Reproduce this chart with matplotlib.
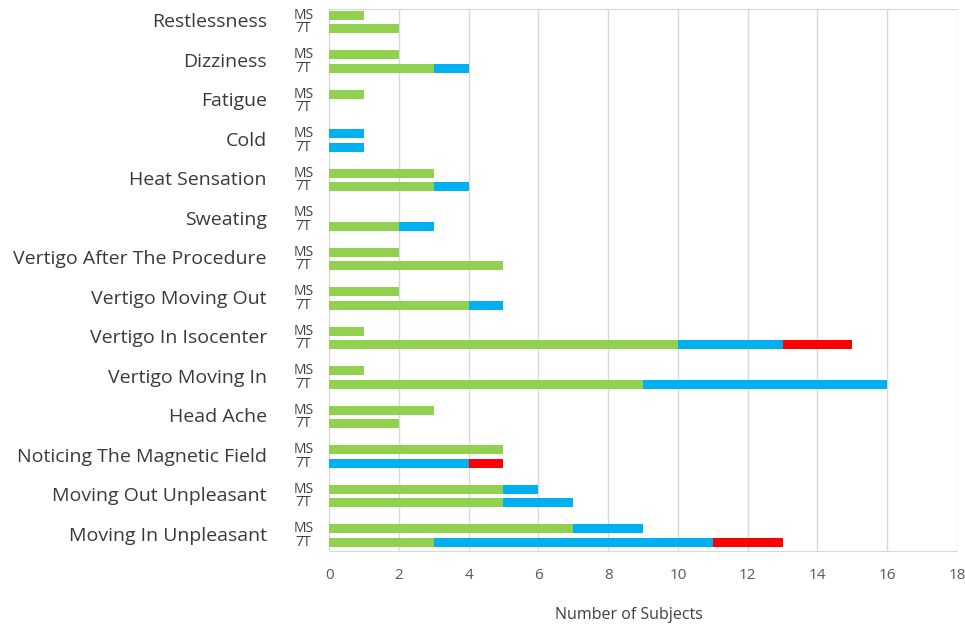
import numpy as np
import matplotlib
matplotlib.use("Agg")
import matplotlib.pyplot as plt

plt.rcParams['font.family'] = ['Open Sans', 'DejaVu Sans']

# Categories listed top to bottom as in the chart
categories = ["Restlessness", "Dizziness", "Fatigue", "Cold", "Heat Sensation",
              "Sweating", "Vertigo After The Procedure", "Vertigo Moving Out",
              "Vertigo In Isocenter", "Vertigo Moving In", "Head Ache",
              "Noticing The Magnetic Field", "Moving Out Unpleasant",
              "Moving In Unpleasant"]

# MS row: green / blue / red segments
ms_green = [1, 2, 1, 0, 3, 0, 2, 2, 1, 1, 3, 5, 5, 7]
ms_blue  = [0, 0, 0, 1, 0, 0, 0, 0, 0, 0, 0, 0, 1, 2]
ms_red   = [0, 0, 0, 0, 0, 0, 0, 0, 0, 0, 0, 0, 0, 0]

# 7T row: green / blue / red segments
t7_green = [2, 3, 0, 0, 3, 2, 5, 4, 10, 9, 2, 0, 5, 3]
t7_blue  = [0, 1, 0, 1, 1, 1, 0, 1, 3, 7, 0, 4, 2, 8]
t7_red   = [0, 0, 0, 0, 0, 0, 0, 0, 2, 0, 0, 1, 0, 2]

row_labels = ["MS", "7T"]
x_ticks = [0, 2, 4, 6, 8, 10, 12, 14, 16, 18]

GREEN = "#92D050"
BLUE = "#00B0F0"
RED = "#FF0000"

n = len(categories)
y = np.arange(n)[::-1]          # top category gets the highest value
off = 0.17
h = 0.23

fig = plt.figure(figsize=(9.65, 6.25), dpi=100)
ax = fig.add_axes([0.341, 0.1184, 0.6507, 0.8672])

for yy, g, b, r in [(y + off, ms_green, ms_blue, ms_red),
                    (y - off, t7_green, t7_blue, t7_red)]:
    g = np.array(g)
    b = np.array(b)
    r = np.array(r)
    ax.barh(yy, g, height=h, color=GREEN, zorder=3)
    ax.barh(yy, b, height=h, left=g, color=BLUE, zorder=3)
    ax.barh(yy, r, height=h, left=g + b, color=RED, zorder=3)

ax.set_xlim(0, 18)
ax.set_ylim(-0.39, n - 1 + 0.33)
ax.set_xticks(x_ticks)
ax.set_xticklabels([str(t) for t in x_ticks], fontsize=11, color="#595959")
ax.tick_params(axis='x', length=0, pad=12)
ax.set_yticks([])
ax.grid(axis='x', color="#d9d9d9", linewidth=1, zorder=0)

for s in ['top', 'bottom', 'left']:
    ax.spines[s].set_color("#d9d9d9")
ax.spines['right'].set_visible(False)

ytr = ax.get_yaxis_transform()
for yi, name in zip(y, categories):
    ax.text(-0.099, yi, name, transform=ytr, ha='right', va='center',
            fontsize=14, color="#3a3a3a")
    ax.text(-0.041, yi + off, row_labels[0], transform=ytr, ha='center',
            va='center', fontsize=10, color="#404040")
    ax.text(-0.041, yi - off, row_labels[1], transform=ytr, ha='center',
            va='center', fontsize=10, color="#404040")

ax.set_xlabel("Number of Subjects", fontsize=11.5, color="#404040")
ax.xaxis.set_label_coords(0.478, -0.103)

fig.savefig("out.png", dpi=100)
